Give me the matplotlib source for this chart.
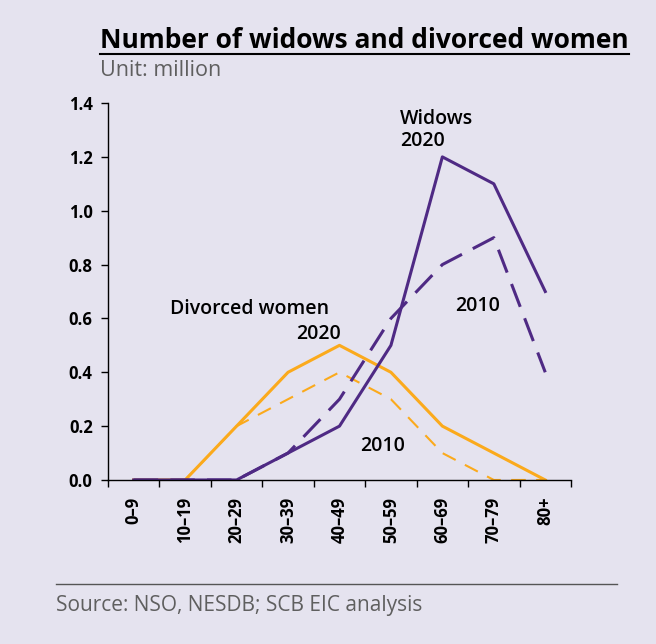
import matplotlib.pyplot as plt
from matplotlib.lines import Line2D

plt.rcParams['font.family'] = ['Open Sans', 'DejaVu Sans']

# age groups and counts (million)
age_groups = ['0–9', '10–19', '20–29', '30–39', '40–49', '50–59', '60–69', '70–79', '80+']
widows_2020 = [0, 0, 0, 0.1, 0.2, 0.5, 1.2, 1.1, 0.7]
widows_2010 = [0, 0, 0, 0.1, 0.3, 0.6, 0.8, 0.9, 0.4]
divorced_2020 = [0, 0, 0.2, 0.4, 0.5, 0.4, 0.2, 0.1, 0]
divorced_2010 = [0, 0, 0.2, 0.3, 0.4, 0.3, 0.1, 0, 0]

bg = '#E5E3EF'
purple = '#4F2A84'
orange = '#FBAA1C'

fig = plt.figure(figsize=(6.56, 6.44), dpi=100, facecolor=bg)
ax = fig.add_axes([0.1646, 0.2547, 0.7058, 0.5853], facecolor=bg)

x = range(len(age_groups))
ax.plot(x, divorced_2010, color=orange, lw=1.5, dashes=(7, 5))
ax.plot(x, divorced_2020, color=orange, lw=2.2)
ax.plot(x, widows_2010, color=purple, lw=2.2, dashes=(8, 4))
ax.plot(x, widows_2020, color=purple, lw=2.2)

ax.set_xlim(-0.5, len(age_groups) - 0.5)
ax.set_ylim(0, 1.4)
ax.set_yticks([0, 0.2, 0.4, 0.6, 0.8, 1.0, 1.2, 1.4])
ax.set_yticklabels(['0.0', '0.2', '0.4', '0.6', '0.8', '1.0', '1.2', '1.4'],
                   fontsize=12, fontweight='bold')
ax.set_xticks(list(x))
ax.set_xticklabels(age_groups, rotation=90, fontsize=12, fontweight='bold')
ax.set_xticks([i - 0.5 for i in range(len(age_groups) + 1)], minor=True)
ax.tick_params(axis='x', which='major', length=0, pad=12)
ax.tick_params(axis='x', which='minor', length=5, width=1, direction='out')
ax.tick_params(axis='y', length=5, width=1, pad=6)
for s in ['top', 'right']:
    ax.spines[s].set_visible(False)
for s in ['left', 'bottom']:
    ax.spines[s].set_linewidth(1)

# series labels
lbl = dict(fontsize=14, fontweight='semibold')
ax.text(5.18, 1.30, 'Widows\n2020', ha='left', va='center', linespacing=1.15, **lbl)
ax.text(6.69, 0.646, '2010', ha='center', va='center', **lbl)
ax.text(0.70, 0.635, 'Divorced women', ha='left', va='center', **lbl)
ax.text(3.6, 0.542, '2020', ha='center', va='center', **lbl)
ax.text(4.83, 0.126, '2010', ha='center', va='center', **lbl)

# title block
title = fig.text(100 / 656, 1 - 40 / 644, 'Number of widows and divorced women',
                 fontsize=19, fontweight='bold', ha='left', va='center', color='black')
fig.text(100 / 656, 1 - 70 / 644, 'Unit: million', fontsize=15.5, color='#5f5f5f',
         ha='left', va='center')

fig.canvas.draw()
bb = title.get_window_extent().transformed(fig.transFigure.inverted())
fig.add_artist(Line2D([bb.x0, bb.x1], [bb.y0 - 0.001, bb.y0 - 0.001],
                      transform=fig.transFigure, color='black', lw=1.5))

# footer
fig.add_artist(Line2D([56 / 656, 617 / 656], [1 - 584 / 644] * 2,
                      transform=fig.transFigure, color='#555555', lw=1))
fig.text(56 / 656, 1 - 606 / 644, 'Source: NSO, NESDB; SCB EIC analysis', fontsize=15,
         color='#5f5f5f', ha='left', va='center')

fig.savefig('out.png', dpi=100, facecolor=bg)
